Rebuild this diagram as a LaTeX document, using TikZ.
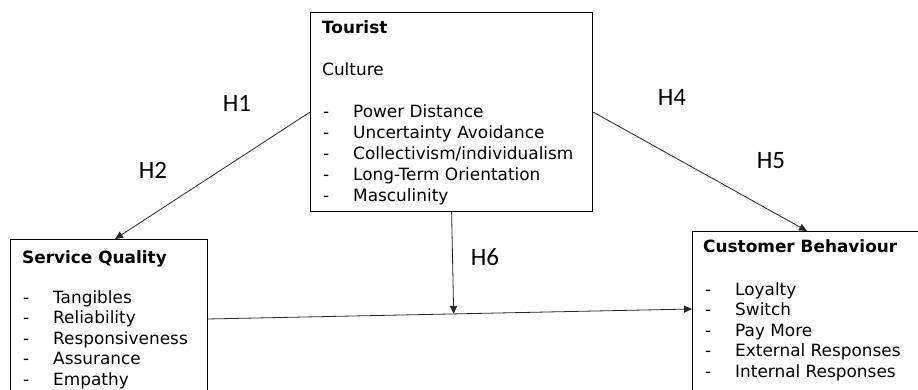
\documentclass[tikz,border=0pt]{standalone}
\usepackage{fontspec}
\setmainfont{DejaVu Sans}
\newfontfamily\hfont{Carlito}
\usetikzlibrary{arrows.meta,calc}
\begin{document}
\begin{tikzpicture}[x=1pt,y=-1pt,
  box/.style={draw,line width=1.2pt,rectangle,anchor=north west,inner sep=0pt},
  txt/.style={anchor=base west,inner sep=0pt,font=\fontsize{16.9}{20}\selectfont},
  ttl/.style={txt,font=\fontsize{16.9}{20}\selectfont\bfseries},
  hyp/.style={inner sep=0pt,font=\hfont\fontsize{25}{30}\selectfont},
  conn/.style={line width=0.8pt,draw=black!85,-{Triangle[length=8pt,width=7pt]}}]
\useasboundingbox (0,0) rectangle (918,389);
\clip (0,0) rectangle (918,389);
% boxes
\node[box,minimum width=282pt,minimum height=199pt] (tourist) at (310,12) {};
\node[box,minimum width=197pt,minimum height=200pt] (sq) at (10,239) {};
\node[box,minimum width=260pt,minimum height=200pt] (cb) at (692,231) {};
% tourist text
\node[ttl] (tt) at (322,33) {Tourist};
\node[txt] (tc) at (322,75) {Culture};
\foreach \t [count=\i] in {Power Distance,Uncertainty Avoidance,Collectivism/individualism,Long-Term Orientation,Masculinity}{
  \node[txt] (td\i) at (323,{96+21*\i}) {-};
  \node[txt] (ti\i) at (353,{96+21*\i}) {\t};
}
% service quality text
\node[ttl] (st) at (22,263) {Service Quality};
\foreach \t [count=\i] in {Tangibles,Reliability,Responsiveness,Assurance,Empathy}{
  \node[txt] (sd\i) at (23,{282.5+20.5*\i}) {-};
  \node[txt] (si\i) at (53,{282.5+20.5*\i}) {\t};
}
% customer behaviour text
\node[ttl] (ct) at (703,252) {Customer Behaviour};
\foreach \t [count=\i] in {Loyalty,Switch,Pay More,External Responses,Internal Responses}{
  \node[txt] (cd\i) at (705,{274.5+20.5*\i}) {-};
  \node[txt] (ci\i) at (735,{274.5+20.5*\i}) {\t};
}
% connector end points
\coordinate (sqtop) at (115,239);
\coordinate (cbtop) at (807,231);
\coordinate (sqright) at (207,319);
\coordinate (cbleft) at (692,309);
\coordinate (mod) at ($(sqright)!(tourist.south)!(cbleft)$);
% connectors
\draw[conn] (tourist.west) -- (sqtop);
\draw[conn] (tourist.east) -- (cbtop);
\draw[conn] (sqright) -- (cbleft);
\draw[conn] (tourist.south) -- (mod);
% hypothesis labels
\node[hyp] (h1) at (237,103) {H1};
\node[hyp] (h2) at (153,170) {H2};
\node[hyp] (h4) at (672,97) {H4};
\node[hyp] (h5) at (771,161) {H5};
\node[hyp] (h6) at (485,257) {H6};
\end{tikzpicture}
\end{document}
